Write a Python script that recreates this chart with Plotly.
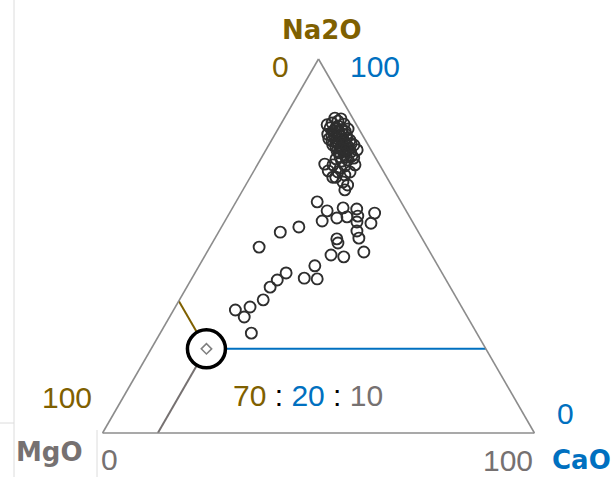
import plotly.graph_objects as go

# ternary composition of every sample (percent): brown = Na2O, blue = CaO, grey = MgO
cao = [83.4, 82.9, 82.6, 81.6, 81.6, 81.0, 81.3, 79.9, 79.7, 79.4, 79.7, 78.1, 77.8, 78.1, 78.3,
       76.5, 76.2, 76.7, 77.0, 74.9, 74.3, 75.1, 75.7, 73.3, 72.7, 73.0, 73.5,
       84.2, 84.0, 82.4, 80.7, 80.5, 80.7, 78.6, 78.9, 78.6, 78.9, 77.0, 77.0, 77.3, 77.3,
       75.4, 75.4, 75.9, 73.8, 73.8, 74.1, 71.7, 71.4, 68.4,
       82.1, 79.4, 79.9, 77.8, 77.5, 76.2, 75.7,
       71.9, 70.1, 68.4, 70.9, 69.0, 67.1, 69.8, 71.7, 66.3, 69.8,
       61.8, 59.4, 60.2, 59.9, 58.8, 56.7, 57.5, 57.8, 58.0, 56.4, 56.1, 54.0, 52.1, 51.9, 50.8,
       48.4, 47.6, 47.1, 55.1, 53.7, 49.7, 44.7, 41.4, 41.2, 42.8, 40.9, 39.0, 35.6, 33.7, 32.9,
       31.0, 26.7, 65.0]
mgo = [12.8, 11.7, 14.6, 11.9, 13.2, 14.9, 16.2, 12.2, 13.8, 15.3, 16.6, 14.1, 15.6, 16.9, 18.1,
       15.8, 17.3, 18.4, 19.7, 17.3, 18.9, 19.9, 21.1, 17.4, 19.0, 20.3, 21.4,
       11.7, 13.2, 10.8, 13.0, 14.5, 15.8, 13.1, 14.4, 15.9, 17.1, 14.8, 16.2, 17.5, 18.9,
       16.6, 18.0, 19.1, 18.1, 19.5, 20.7, 17.5, 20.4, 19.8,
       13.5, 13.4, 15.7, 15.1, 16.7, 16.9, 18.5,
       15.5, 17.2, 19.1, 19.6, 21.6, 22.1, 22.4, 22.6, 23.6, 19.6,
       18.8, 22.3, 25.6, 28.9, 33.6, 22.5, 25.5, 27.7, 30.1, 30.7, 34.1, 31.9, 33.3, 28.3, 29.1,
       36.3, 29.1, 32.3, 17.9, 14.3, 11.4, 26.8, 26.0, 29.1, 21.1, 20.0, 19.3, 19.4, 17.3, 14.3,
       17.3, 21.1, 23.6]
na2o = [round(100 - a - c, 1) for a, c in zip(cao, mgo)]

# highlighted sample and its label
sel_na2o, sel_cao, sel_mgo = 64.7, 22.5, 12.8
sel_label = ["70", "20", "10"]

BROWN = "#7F6000"
BLUE = "#0070C0"
GREY = "#767171"

fig = go.Figure()

# reading lines from the highlighted sample to each edge
guides = [
    (BLUE, [sel_cao, sel_cao], [sel_na2o, 0], [sel_mgo, 100 - sel_cao]),
    (BROWN, [sel_cao, 100 - sel_na2o], [sel_na2o, sel_na2o], [sel_mgo, 0]),
    (GREY, [sel_cao, 0], [sel_na2o, 100 - sel_mgo], [sel_mgo, sel_mgo]),
]
for col, a, b, c in guides:
    fig.add_trace(go.Scatterternary(a=a, b=b, c=c, mode="lines",
                                    line=dict(color=col, width=2), hoverinfo="skip"))

fig.add_trace(go.Scatterternary(a=[sel_cao], b=[sel_na2o], c=[sel_mgo], mode="markers",
                                marker=dict(symbol="circle", size=38, color="white",
                                            line=dict(color="black", width=3.5))))
fig.add_trace(go.Scatterternary(a=[sel_cao], b=[sel_na2o], c=[sel_mgo], mode="markers",
                                marker=dict(symbol="diamond-open", size=8, color="#808080",
                                            line=dict(width=1.5))))

fig.add_trace(go.Scatterternary(a=cao, b=na2o, c=mgo, mode="markers",
                                marker=dict(symbol="circle-open", size=11, color="#2e2e2e",
                                            line=dict(width=1.9))))

ax = dict(showticklabels=False, ticks="", showgrid=False, linecolor="#8c8c8c",
          linewidth=1.6, title=dict(text=""))
fig.update_layout(
    width=615, height=477,
    margin=dict(l=102, r=80, t=59, b=44),
    paper_bgcolor="white",
    showlegend=False,
    ternary=dict(sum=100, bgcolor="white", domain=dict(x=[0, 1], y=[0, 1]),
                 aaxis=ax, baxis=ax, caxis=ax),
)


def px(x, y):
    return (x - 102) / 433, (433 - y) / 374


# faint frame lines left over at the left edge of the picture
for (x0, y0), (x1, y1) in [((14, 0), (14, 477)), ((0, 423), (14, 423)), ((97, 430), (97, 477))]:
    p0, p1 = px(x0, y0), px(x1, y1)
    fig.add_shape(type="line", xref="paper", yref="paper", x0=p0[0], y0=p0[1], x1=p1[0], y1=p1[1],
                  line=dict(color="#dcdcdc", width=1))

num = dict(family="Liberation Sans, Arial", size=30)
bold = dict(family="DejaVu Sans", size=26)


def label(text, x, y, color, font):
    # x, y given in page pixels
    lx, ly = px(x, y)
    fig.add_annotation(text=text, x=lx, y=ly, xref="paper", yref="paper",
                       showarrow=False, xanchor="center", yanchor="middle",
                       font=dict(color=color, **font))


label("<b>Na2O</b>", 322, 30, BROWN, bold)
label("<b>MgO</b>", 49, 452, GREY, bold)
label("<b>CaO</b>", 581, 460, BLUE, bold)
label("0", 280, 67, BROWN, num)
label("100", 375, 67, BLUE, num)
label("100", 67, 397, BROWN, num)
label("0", 109, 459, GREY, num)
label("0", 565, 413, BLUE, num)
label("100", 508, 460, GREY, num)
label(f"<span style='color:{BROWN}'>{sel_label[0]}</span> : "
      f"<span style='color:{BLUE}'>{sel_label[1]}</span> : "
      f"<span style='color:{GREY}'>{sel_label[2]}</span>", 308, 395, "black", num)

fig.write_html("out.html", config={"displayModeBar": False},
               post_script="document.body.style.margin='0';")
